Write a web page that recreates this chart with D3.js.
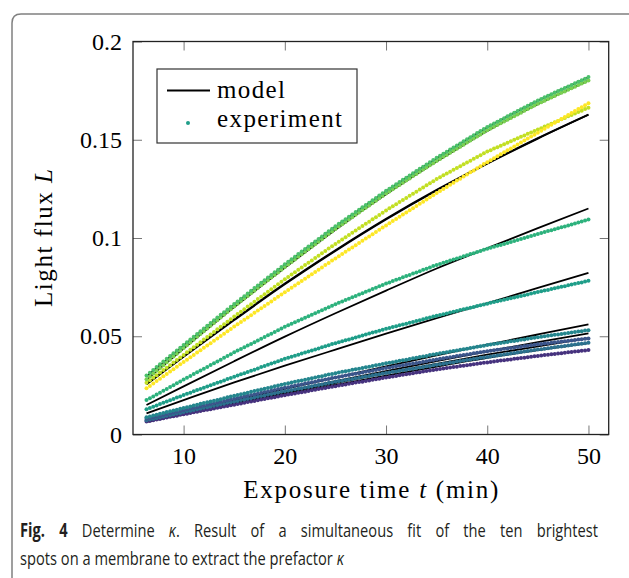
<!DOCTYPE html>
<html>
<head>
<meta charset="utf-8">
<script src="https://cdn.jsdelivr.net/npm/d3@7"></script>
<style>
  body { margin: 0; background: #fff; }
  svg { display: block; }
  .tick text { font-family: "Liberation Serif", serif; font-size: 24px; fill: #000; }
  .tick line { stroke: #777; stroke-width: 1; }
  .lab { font-family: "Liberation Serif", serif; font-size: 25px; fill: #000; }
</style>
</head>
<body>
<div id="chart"></div>
<script>
var width = 629, height = 578;

const xTicks = [10, 20, 30, 40, 50];
const yTicks = [0, 0.05, 0.1, 0.15, 0.2];

// first frame at 6 min 20 s, then one frame every 20 s
const tFirst = 19 / 3, tStep = 1 / 3;

// measured light flux of each spot, in units of 1e-4
const spot1 = [300,314,328,343,357,371,385,399,413,428,442,456,
  470,484,498,511,525,539,553,567,581,595,609,622,636,650,664,
  677,691,704,718,731,745,758,772,785,799,812,826,839,853,866,
  879,892,905,918,931,944,957,969,982,995,1008,1021,1034,1047,1060,
  1072,1084,1096,1108,1120,1132,1144,1156,1168,1180,1192,1204,1216,1228,1240,
  1251,1262,1274,1285,1296,1307,1318,1330,1341,1352,1363,1374,1386,1397,1408,
  1418,1429,1439,1450,1460,1471,1481,1492,1502,1513,1523,1534,1544,1555,1565,
  1574,1583,1592,1601,1610,1619,1628,1637,1646,1655,1664,1673,1682,1691,1700,
  1708,1716,1724,1732,1740,1748,1756,1763,1771,1779,1787,1795,1803,1811,1819];
const spot2 = [281,295,310,324,339,353,368,382,397,411,426,440,
  454,468,482,497,511,525,539,553,567,581,595,610,624,638,652,
  665,679,692,705,719,732,745,759,772,785,799,812,825,839,852,
  865,878,891,904,917,930,943,955,968,981,994,1007,1020,1033,1046,
  1058,1070,1082,1094,1106,1118,1130,1142,1154,1166,1178,1190,1202,1214,1226,
  1237,1248,1259,1270,1281,1292,1303,1315,1326,1337,1348,1359,1370,1381,1392,
  1402,1413,1423,1434,1444,1454,1465,1475,1486,1496,1506,1517,1527,1538,1548,
  1557,1566,1575,1584,1593,1602,1611,1620,1629,1638,1647,1656,1665,1674,1683,
  1691,1699,1707,1715,1723,1731,1739,1746,1754,1762,1770,1778,1786,1794,1802];
const spot3 = [263,276,289,302,315,328,340,353,366,379,392,405,
  418,431,444,457,470,483,496,509,522,535,548,561,574,587,600,
  613,625,638,651,663,676,689,701,714,727,739,752,765,777,790,
  802,814,826,838,850,862,874,886,898,910,922,934,946,958,970,
  981,993,1004,1015,1027,1038,1049,1061,1072,1083,1095,1106,1117,1129,1140,
  1151,1161,1172,1183,1193,1204,1215,1225,1236,1247,1257,1268,1279,1289,1300,
  1309,1319,1328,1337,1347,1356,1365,1375,1384,1393,1403,1412,1421,1431,1440,
  1447,1455,1462,1470,1477,1485,1492,1500,1507,1515,1522,1530,1537,1545,1552,
  1559,1567,1574,1582,1589,1596,1604,1611,1619,1626,1633,1641,1648,1656,1663];
const spot4 = [235,247,259,272,284,296,308,320,332,345,357,369,
  381,393,405,417,429,441,453,465,477,489,501,513,525,537,549,
  561,572,584,596,607,619,631,642,654,666,677,689,701,712,724,
  735,747,758,770,781,793,804,816,827,839,850,862,873,885,896,
  907,918,930,941,952,963,974,986,997,1008,1019,1030,1042,1053,1064,
  1075,1086,1097,1108,1119,1130,1141,1152,1163,1174,1185,1196,1207,1218,1229,
  1239,1250,1260,1271,1281,1292,1302,1313,1323,1334,1344,1355,1365,1376,1386,
  1396,1406,1416,1426,1436,1446,1456,1466,1476,1486,1496,1506,1516,1526,1536,
  1546,1556,1566,1576,1586,1596,1606,1616,1626,1636,1646,1656,1666,1676,1686];
const spot5 = [175,185,194,204,213,223,232,242,251,261,270,280,
  289,298,308,317,326,335,344,354,363,372,381,390,400,409,418,
  427,435,444,453,461,470,479,487,496,505,513,522,531,539,548,
  556,563,571,579,586,594,602,609,617,625,632,640,648,655,663,
  670,677,684,691,698,705,712,719,726,733,740,747,754,761,768,
  774,781,787,793,800,806,812,819,825,831,838,844,850,857,863,
  868,874,879,885,890,896,901,907,912,918,923,929,934,940,945,
  950,955,960,965,970,975,980,985,990,995,1000,1005,1010,1015,1020,
  1025,1030,1035,1040,1045,1050,1055,1059,1064,1069,1074,1079,1084,1089,1094];
const spot6 = [128,135,141,148,155,161,168,174,181,188,194,201,
  207,213,220,226,232,238,244,251,257,263,269,275,282,288,294,
  300,306,312,318,324,330,336,343,349,355,361,367,373,379,385,
  390,396,401,406,412,417,422,428,433,438,444,449,454,460,465,
  470,475,480,484,489,494,499,504,509,514,519,523,528,533,538,
  542,547,551,556,560,564,569,573,578,582,586,591,595,600,604,
  608,612,616,621,625,629,633,637,641,645,649,654,658,662,666,
  670,674,678,682,686,690,694,697,701,705,709,713,717,721,725,
  729,733,736,740,744,748,752,755,759,763,767,771,774,778,782];
const spot7 = [88,92,97,101,105,109,114,118,122,126,131,135,
  139,143,147,152,156,160,164,168,172,176,180,185,189,193,197,
  201,205,209,213,217,221,225,229,233,237,241,245,249,253,257,
  261,264,268,272,275,279,283,286,290,294,297,301,305,308,312,
  315,319,322,325,329,332,335,339,342,345,349,352,355,359,362,
  365,368,372,375,378,381,384,388,391,394,397,400,404,407,410,
  413,416,419,422,425,428,431,434,437,440,443,446,449,452,455,
  458,460,463,466,468,471,474,476,479,482,484,487,490,492,495,
  497,500,502,505,507,509,512,514,517,519,521,524,526,529,531];
const spot8 = [80,84,88,92,96,100,104,108,112,116,120,124,
  128,132,136,139,143,147,151,155,159,163,167,170,174,178,182,
  186,189,193,197,201,204,208,212,216,219,223,227,231,234,238,
  241,245,248,252,255,259,262,266,269,273,276,280,283,287,290,
  293,296,300,303,306,309,312,316,319,322,325,328,332,335,338,
  341,344,347,350,353,356,359,361,364,367,370,373,376,379,382,
  385,388,390,393,396,399,402,404,407,410,413,416,418,421,424,
  426,429,431,433,436,438,440,443,445,447,450,452,454,457,459,
  461,463,465,467,469,471,473,475,477,479,481,483,485,487,489];
const spot9 = [73,77,80,84,88,92,95,99,103,107,110,114,
  118,121,125,128,132,136,139,143,146,150,154,157,161,164,168,
  171,175,178,182,185,189,192,196,199,203,206,210,213,217,220,
  223,226,230,233,236,239,242,246,249,252,255,258,262,265,268,
  271,274,277,280,283,286,289,292,295,298,301,304,307,310,313,
  316,319,321,324,327,330,333,335,338,341,344,347,349,352,355,
  358,360,363,366,368,371,374,376,379,382,384,387,390,392,395,
  397,400,402,405,407,410,412,415,417,420,422,425,427,430,432,
  434,437,439,441,444,446,448,451,453,455,458,460,462,465,467];
const spot10 = [66,69,73,76,79,83,86,90,93,96,100,103,
  106,110,113,116,119,123,126,129,132,136,139,142,145,149,152,
  155,158,162,165,168,171,174,178,181,184,187,190,194,197,200,
  203,206,209,212,215,218,221,225,228,231,234,237,240,243,246,
  249,252,255,258,261,264,267,269,272,275,278,281,284,287,290,
  293,295,298,301,304,306,309,312,315,317,320,323,326,328,331,
  333,336,338,341,343,345,348,350,353,355,357,360,362,365,367,
  369,371,374,376,378,380,382,385,387,389,391,393,396,398,400,
  402,404,406,408,410,412,414,416,418,420,422,424,426,428,430];

// fitted model, same units, at these times (min)
const modelT = [19 / 3, 10, 15, 20, 25, 30, 35, 40, 45, 50];
const model1 = [296, 452, 660, 862, 1056, 1237, 1405, 1562, 1698, 1818];
const model2 = [279, 437, 648, 848, 1042, 1222, 1389, 1545, 1681, 1801];
const model3 = [258, 398, 586, 768, 938, 1098, 1245, 1380, 1508, 1628];
const model4 = [255, 395, 582, 764, 934, 1094, 1242, 1378, 1506, 1627];
const model5 = [150, 245, 373, 498, 617, 732, 845, 948, 1050, 1150];
const model6 = [108, 175, 265, 350, 432, 513, 592, 668, 746, 823];
const model7 = [70, 114, 173, 232, 290, 347, 403, 457, 509, 560];
const model8 = [68, 109, 164, 218, 271, 323, 374, 423, 470, 515];
const model9 = [66, 106, 159, 211, 262, 312, 360, 406, 449, 490];
const model10 = [64, 102, 153, 203, 252, 300, 346, 390, 429, 465];

// draw order, bottom first
const spots = [spot10, spot9, spot8, spot7, spot6, spot5, spot3, spot4, spot2, spot1];
const spotColors = ["#46327e", "#2c718e", "#3b558b", "#24868e", "#1f9e89", "#2db27d", "#c2df23", "#fde725", "#7ad151", "#4cc26c"];
const models = [model1, model2, model3, model4, model5, model6, model7, model8, model9, model10];

const svg = d3.select('#chart').append('svg')
    .attr('width', width).attr('height', height);

svg.append('rect').attr('width', width).attr('height', height).attr('fill', '#fff');

// figure box (open to the right and bottom)
svg.append('path')
    .attr('d', 'M12,578 L12,23 Q12,14 21,14 L629,14')
    .attr('fill', 'none').attr('stroke', '#808080').attr('stroke-width', 1.5);

const x = d3.scaleLinear().domain([5, 52]).range([133, 608.7]);
const y = d3.scaleLinear().domain([0, 0.2]).range([434.5, 41.5]);

// ticks on all four sides, pointing inwards
svg.append('g').attr('transform', `translate(0,${y(0)})`)
    .call(d3.axisBottom(x).tickValues(xTicks).tickSize(-9).tickPadding(12))
    .call(g => g.select('.domain').remove());
svg.append('g').attr('transform', `translate(0,${y(0.2)})`)
    .call(d3.axisTop(x).tickValues(xTicks).tickSize(-9).tickFormat(''))
    .call(g => g.select('.domain').remove());
svg.append('g').attr('transform', `translate(${x(5)},0)`)
    .call(d3.axisLeft(y).tickValues(yTicks).tickSize(-9).tickPadding(11).tickFormat(d3.format('~g')))
    .call(g => g.select('.domain').remove());
svg.append('g').attr('transform', `translate(${x(52)},0)`)
    .call(d3.axisRight(y).tickValues(yTicks).tickSize(-9).tickFormat(''))
    .call(g => g.select('.domain').remove());

svg.append('rect')
    .attr('x', x(5)).attr('y', y(0.2))
    .attr('width', x(52) - x(5)).attr('height', y(0) - y(0.2))
    .attr('fill', 'none').attr('stroke', '#222').attr('stroke-width', 1.3);

// model curves
const line = d3.line()
    .x((v, k) => x(modelT[k]))
    .y(v => y(v / 1e4))
    .curve(d3.curveMonotoneX);

svg.append('g').selectAll('path').data(models).join('path')
    .attr('d', line)
    .attr('fill', 'none').attr('stroke', '#000').attr('stroke-width', 1.8);

// experiment dots
spots.forEach((vals, i) => {
    svg.append('g').attr('fill', spotColors[i])
        .selectAll('circle').data(vals).join('circle')
        .attr('cx', (v, k) => x(tFirst + k * tStep))
        .attr('cy', v => y(v / 1e4))
        .attr('r', 2);
});

// axis labels, stretched to the width of the original Computer Modern set
const xl = svg.append('text').attr('class', 'lab')
    .attr('x', (x(5) + x(52)) / 2).attr('y', 498).attr('text-anchor', 'middle')
    .attr('textLength', 255);
xl.append('tspan').text('Exposure time ');
xl.append('tspan').attr('font-style', 'italic').text('t');
xl.append('tspan').text(' (min)');

const yl = svg.append('text').attr('class', 'lab')
    .attr('transform', `translate(52,${(y(0) + y(0.2)) / 2}) rotate(-90)`)
    .attr('text-anchor', 'middle').attr('textLength', 138);
yl.append('tspan').text('Light flux ');
yl.append('tspan').attr('font-style', 'italic').text('L');

// legend
const leg = svg.append('g');
leg.append('rect').attr('x', 157).attr('y', 69).attr('width', 200).attr('height', 74)
    .attr('fill', '#fff').attr('stroke', '#333').attr('stroke-width', 1.2);
leg.append('line').attr('x1', 167).attr('x2', 210).attr('y1', 90.5).attr('y2', 90.5)
    .attr('stroke', '#000').attr('stroke-width', 1.8);
leg.append('circle').attr('cx', 188).attr('cy', 123).attr('r', 2).attr('fill', '#1f9e89');
leg.append('text').attr('class', 'lab').attr('x', 217).attr('y', 98)
    .attr('textLength', 68).text('model');
leg.append('text').attr('class', 'lab').attr('x', 217).attr('y', 127)
    .attr('textLength', 125).text('experiment');

// caption
const cap = svg.append('g')
    .attr('font-family', '"Open Sans", sans-serif').attr('font-size', 19).attr('fill', '#231f20');
const cap1 = cap.append('text').attr('y', 537);
cap1.append('tspan').attr('font-weight', 700).text('Fig. 4');
cap1.append('tspan').text(' Determine ');
cap1.append('tspan').attr('font-style', 'italic').text('κ');
cap1.append('tspan').text('. Result of a simultaneous fit of the ten brightest');
const cap2 = cap.append('text').attr('y', 565);
cap2.append('tspan').text('spots on a membrane to extract the prefactor ');
cap2.append('tspan').attr('font-style', 'italic').text('κ');

// condensed face, first line justified
const s = 324 / cap2.node().getComputedTextLength();
cap.attr('transform', `translate(20,0) scale(${s},1)`);
const extra = 578 / s - cap1.node().getComputedTextLength();
cap1.style('word-spacing', (extra / 12) + 'px');
</script>
</body>
</html>
